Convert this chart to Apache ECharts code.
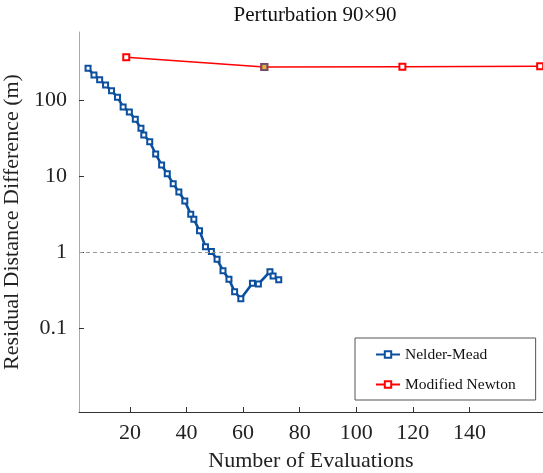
<!DOCTYPE html>
<html><head><meta charset="utf-8">
<script src="https://cdn.jsdelivr.net/npm/echarts@6/dist/echarts.min.js"></script>
<style>html,body{margin:0;padding:0;background:#fff}#c{width:543px;height:473px}</style>
</head><body><div id="c"></div>
<script>
const titleText = 'Perturbation 90×90';
const xTicks = [20, 40, 60, 80, 100, 120, 140];
const yTicks = [0.1, 1, 10, 100];
const nmX = [5.2, 7.3, 9.3, 11.4, 13.5, 15.6, 17.6, 19.8, 21.9, 23.9, 24.9, 27.0, 29.1, 31.2, 33.2, 35.3, 37.3, 39.4, 41.5, 42.6, 44.6, 46.7, 48.8, 50.8, 52.9, 55.0, 57.0, 59.2, 63.3, 65.4, 69.5, 70.6, 72.6];
const nmY = [261, 213, 185, 157, 132, 109, 81, 69.5, 55.7, 42.4, 34.7, 28.3, 19.5, 14.0, 10.7, 7.95, 6.18, 4.71, 3.15, 2.70, 1.92, 1.18, 1.02, 0.807, 0.571, 0.441, 0.303, 0.245, 0.390, 0.382, 0.555, 0.487, 0.435];
const mnX = [18.7, 67.5, 116.3, 165.0];
const mnY = [364, 271, 274, 277];
const hiX = [67.5];
const hiY = [271];

const font = '"Liberation Serif", "Times New Roman", serif';
const zip = (a, b) => a.map((v, i) => [v, b[i]]);

const chart = echarts.init(document.getElementById('c'), null, {renderer: 'canvas'});
chart.setOption({
  animation: false,
  title: {text: titleText, left: 310, top: 0, textAlign: 'center',
    textStyle: {fontFamily: font, fontWeight: 'normal', fontSize: 21, color: '#111'}},
  grid: {left: 79, top: 32, width: 464, height: 380, outerBoundsMode: 'none', containLabel: false},
  legend: {
    orient: 'vertical', left: 355, top: 338,
    padding: [8.5, 20, 7.5, 20], itemGap: 14, itemWidth: 24, itemHeight: 8,
    borderColor: '#555', borderWidth: 1, backgroundColor: '#fff',
    textStyle: {fontFamily: font, fontSize: 15.5, color: '#111'},
    data: ['Nelder-Mead', 'Modified Newton']
  },
  xAxis: {
    type: 'value', min: 2, max: 166,
    name: 'Number of Evaluations', nameLocation: 'middle', nameGap: 38,
    nameTextStyle: {fontFamily: font, fontSize: 22, color: '#222'},
    axisLine: {lineStyle: {color: '#333', width: 1}},
    axisTick: {inside: true, length: 5, customValues: xTicks, lineStyle: {color: '#333'}},
    axisLabel: {customValues: xTicks, fontFamily: font, fontSize: 22, color: '#222', margin: 10},
    splitLine: {show: false}
  },
  yAxis: {
    type: 'log', logBase: 10, min: 0.00794, max: 783,
    name: 'Residual Distance Difference (m)', nameLocation: 'middle', nameGap: 46,
    nameTextStyle: {fontFamily: font, fontSize: 22, color: '#222'},
    axisLine: {show: true, lineStyle: {color: '#aaa', width: 1}},
    axisTick: {show: true, inside: true, length: 5, customValues: yTicks, lineStyle: {color: '#333'}},
    axisLabel: {customValues: yTicks, fontFamily: font, fontSize: 22, color: '#222', margin: 12,
      formatter: v => String(v)},
    splitLine: {show: false}
  },
  series: [
    {
      name: 'Nelder-Mead', type: 'line', data: zip(nmX, nmY),
      symbol: 'emptyRect', symbolSize: 5, showAllSymbol: true,
      lineStyle: {color: '#0B4F9E', width: 2.6},
      itemStyle: {color: '#0B4F9E', borderWidth: 2},
      z: 3,
      markLine: {
        silent: true, symbol: 'none', label: {show: false},
        lineStyle: {color: '#999', type: [4, 3], width: 1},
        data: [{yAxis: 1}]
      }
    },
    {
      name: 'Modified Newton', type: 'line', data: zip(mnX, mnY),
      symbol: 'emptyRect', symbolSize: 6, showAllSymbol: true,
      lineStyle: {color: '#FF0000', width: 1.5},
      itemStyle: {color: '#FF0000', borderWidth: 1.3},
      z: 4, clip: false
    },
    {
      name: 'highlight', type: 'scatter', data: zip(hiX, hiY),
      symbol: 'rect', symbolSize: 6,
      itemStyle: {color: '#E89A10', borderColor: '#4A5A88', borderWidth: 2},
      z: 5
    }
  ]
});
</script></body></html>
